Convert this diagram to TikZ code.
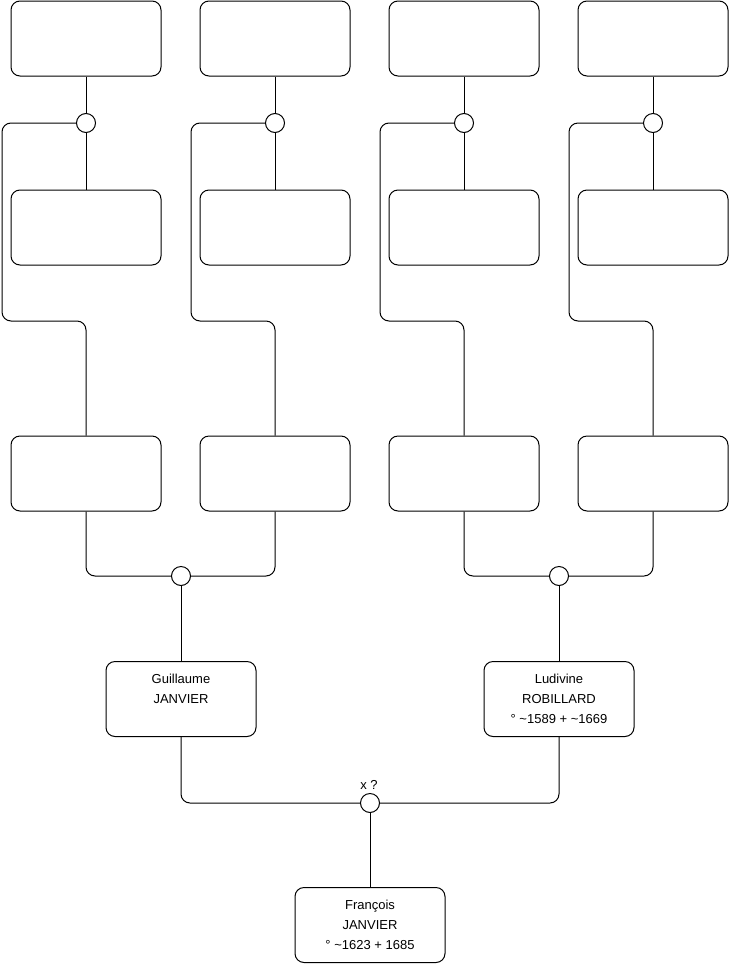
\documentclass[tikz,border=0pt]{standalone}
\usepackage{fontspec}
\setmainfont{Liberation Sans}
\begin{document}
\begin{tikzpicture}[x=1pt,y=-1pt,
  person/.style={draw=black,line width=1pt,rounded corners=9pt,minimum width=150pt,minimum height=75pt,inner sep=0pt,align=center,font=\fontsize{13}{20}\selectfont},
  union/.style={draw=black,line width=1pt,circle,minimum size=19pt,inner sep=0pt,fill=white},
  link/.style={draw=black,line width=1pt,rounded corners=9pt}]
\useasboundingbox (0,0) rectangle (740,975);
% top row
\node[person] (b11) at (86,38.5) {};
\node[person] (b12) at (275,38.5) {};
\node[person] (b13) at (464,38.5) {};
\node[person] (b14) at (653,38.5) {};
% second row
\node[person] (b21) at (86,227.5) {};
\node[person] (b22) at (275,227.5) {};
\node[person] (b23) at (464,227.5) {};
\node[person] (b24) at (653,227.5) {};
% third row
\node[person] (b31) at (86,473.5) {};
\node[person] (b32) at (275,473.5) {};
\node[person] (b33) at (464,473.5) {};
\node[person] (b34) at (653,473.5) {};
% unions top
\node[union] (c1) at (86,123) {};
\node[union] (c2) at (275,123) {};
\node[union] (c3) at (464,123) {};
\node[union] (c4) at (653,123) {};
% parents
\node[person] (g) at (181,699) {Guillaume\\JANVIER\\\mbox{}};
\node[person] (l) at (559,699) {Ludivine\\ROBILLARD\\° \textasciitilde1589 + \textasciitilde1669};
\node[person] (f) at (370,925) {François\\JANVIER\\° \textasciitilde1623 + 1685};
\node[union] (m1) at (181,576) {};
\node[union] (m2) at (559,576) {};
\node[union] (m0) at (370,803) {};
\node[font=\fontsize{13}{14}\selectfont] (xl) at (369,785) {x ?};
% top connectors
\foreach \i in {1,2,3,4}{
  \draw[link] (b1\i.south) -- (c\i.north);
  \draw[link] (c\i.south) -- (b2\i.north);
}
\draw[link] (c1.west) -| (2,321) -| (b31.north);
\draw[link] (c2.west) -| (191,321) -| (b32.north);
\draw[link] (c3.west) -| (380,321) -| (b33.north);
\draw[link] (c4.west) -| (569,321) -| (b34.north);
% lower connectors
\draw[link] (b31.south) |- (m1.west);
\draw[link] (b32.south) |- (m1.east);
\draw[link] (b33.south) |- (m2.west);
\draw[link] (b34.south) |- (m2.east);
\draw[link] (m1.south) -- (g.north);
\draw[link] (m2.south) -- (l.north);
\draw[link] (g.south) |- (m0.west);
\draw[link] (l.south) |- (m0.east);
\draw[link] (m0.south) -- (f.north);
\end{tikzpicture}
\end{document}
